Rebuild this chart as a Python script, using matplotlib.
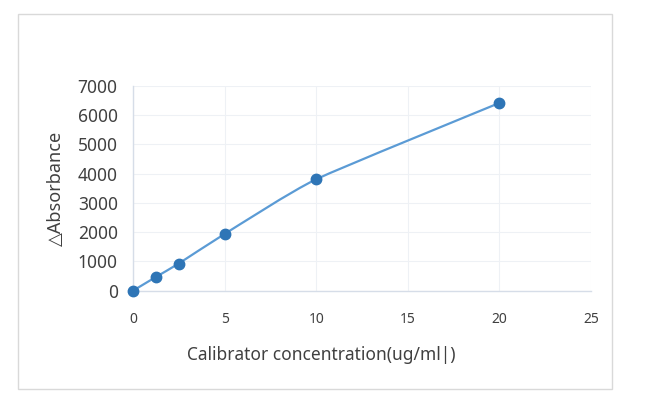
import matplotlib
matplotlib.use('Agg')
import matplotlib.pyplot as plt
from matplotlib.path import Path
from matplotlib.patches import PathPatch, Rectangle
import numpy as np

# calibration curve values
conc = [0, 1.25, 2.5, 5, 10, 20]
absorbance = [0, 470, 930, 1940, 3810, 6420]
xticks = [0, 5, 10, 15, 20, 25]
yticks = [0, 1000, 2000, 3000, 4000, 5000, 6000, 7000]

plt.rcParams['font.family'] = ['Noto Sans', 'DejaVu Sans']
text_color = '#404040'

fig = plt.figure(figsize=(6.45, 4.11), dpi=100)
fig.patches.append(Rectangle((0.0279, 0.0535), 0.9209, 0.9125, transform=fig.transFigure,
                             fill=False, edgecolor='#d9d9d9', linewidth=1.0))
ax = fig.add_axes([0.2062, 0.2927, 0.7101, 0.4981])

# smoothed line like a spreadsheet "smooth line" (bezier through the points)
x = np.array(conc, dtype=float)
y = np.array(absorbance, dtype=float)
verts = [(x[0], y[0])]
codes = [Path.MOVETO]
n = len(x)
t = 0.09
for i in range(n - 1):
    p0 = (x[max(i - 1, 0)], y[max(i - 1, 0)])
    p1 = (x[i], y[i])
    p2 = (x[i + 1], y[i + 1])
    p3 = (x[min(i + 2, n - 1)], y[min(i + 2, n - 1)])
    c1 = (p1[0] + (p2[0] - p0[0]) * t, p1[1] + (p2[1] - p0[1]) * t)
    c2 = (p2[0] - (p3[0] - p1[0]) * t, p2[1] - (p3[1] - p1[1]) * t)
    verts += [c1, c2, p2]
    codes += [Path.CURVE4] * 3
ax.add_patch(PathPatch(Path(verts, codes), fill=False, edgecolor='#5b9bd5',
                       linewidth=1.6, zorder=2))
ax.plot(conc, absorbance, linestyle='none', marker='o', markersize=7.5,
        color='#2e75b6', zorder=3, clip_on=False)

plt.setp(ax, xlim=(0, 25), ylim=(0, 7000), xticks=xticks, yticks=yticks)
ax.grid(True, color='#eef1f5', linewidth=0.8)
ax.set_axisbelow(True)
for side in ['top', 'right']:
    ax.spines[side].set_visible(False)
for side in ['left', 'bottom']:
    ax.spines[side].set_color('#d6dde8')
    ax.spines[side].set_linewidth(1.0)
ax.tick_params(axis='both', length=0, colors=text_color)
ax.tick_params(axis='y', labelsize=12.5, pad=11)
ax.tick_params(axis='x', labelsize=10, pad=15)

ax.set_ylabel('△Absorbance', fontsize=13, color=text_color, labelpad=9)
ax.set_xlabel('Calibrator concentration(ug/ml|)', fontsize=12.5, color=text_color,
              labelpad=14)
ax.xaxis.set_label_coords(0.41, -0.27)

plt.savefig('out.png', dpi=100)
